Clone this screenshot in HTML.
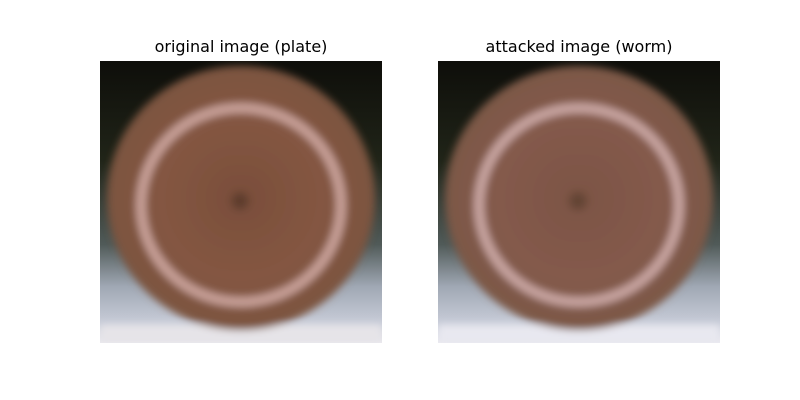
<!DOCTYPE html>
<html><head><meta charset="utf-8"><style>
html,body{margin:0;padding:0;background:#fff;}
svg{display:block;}
text{font-family:"DejaVu Sans","Liberation Sans",sans-serif;}
</style></head><body>
<svg width="800" height="400" viewBox="0 0 800 400">
<defs>
  <filter id="blur" x="-10%" y="-10%" width="120%" height="120%"><feGaussianBlur stdDeviation="4"/></filter>
  <radialGradient id="plateG" cx="50%" cy="50%" r="50%">
    <stop offset="0" stop-color="#7a4e3a"/>
    <stop offset="0.6" stop-color="#845642"/>
    <stop offset="1" stop-color="#7c5440"/>
  </radialGradient>
  <radialGradient id="plateG2" cx="50%" cy="50%" r="50%">
    <stop offset="0" stop-color="#7c5444"/>
    <stop offset="0.6" stop-color="#845a4c"/>
    <stop offset="1" stop-color="#7c5846"/>
  </radialGradient>
  <linearGradient id="bgG" x1="0" y1="0" x2="0" y2="1">
    <stop offset="0" stop-color="#0e0e0a"/>
    <stop offset="0.35" stop-color="#202418"/>
    <stop offset="0.65" stop-color="#505a58"/>
    <stop offset="0.8" stop-color="#a0a8b4"/>
    <stop offset="0.93" stop-color="#c8ccd8"/>
    <stop offset="1" stop-color="#ecebf0"/>
  </linearGradient>
  <clipPath id="c1"><rect x="100" y="61" width="282" height="282"/></clipPath>
  <clipPath id="c2"><rect x="438" y="61" width="282" height="282"/></clipPath>
</defs>
<text x="241" y="52" font-size="16" text-anchor="middle" fill="#000">original image (plate)</text>
<text x="579" y="52" font-size="16" text-anchor="middle" fill="#000">attacked image (worm)</text>
<g clip-path="url(#c1)">
  <rect x="100" y="61" width="282" height="282" fill="url(#bgG)"/>
  <g filter="url(#blur)">
    <rect x="100" y="325" width="282" height="18" fill="#e6e4e8"/>
    <ellipse cx="241" cy="198" rx="134" ry="132" fill="url(#plateG)"/>
    <ellipse cx="241" cy="205" rx="100" ry="97" fill="none" stroke="#c8a098" stroke-width="10"/>
    <circle cx="240" cy="201" r="9" fill="#5e3e2e"/>
  </g>
</g>
<g clip-path="url(#c2)">
  <rect x="438" y="61" width="282" height="282" fill="url(#bgG)"/>
  <g filter="url(#blur)">
    <rect x="438" y="325" width="282" height="18" fill="#e8e8f0"/>
    <ellipse cx="579" cy="198" rx="134" ry="132" fill="url(#plateG2)"/>
    <ellipse cx="579" cy="205" rx="100" ry="97" fill="none" stroke="#c8a4a0" stroke-width="10"/>
    <circle cx="578" cy="201" r="9" fill="#644434"/>
  </g>
</g>
</svg>
</body></html>
